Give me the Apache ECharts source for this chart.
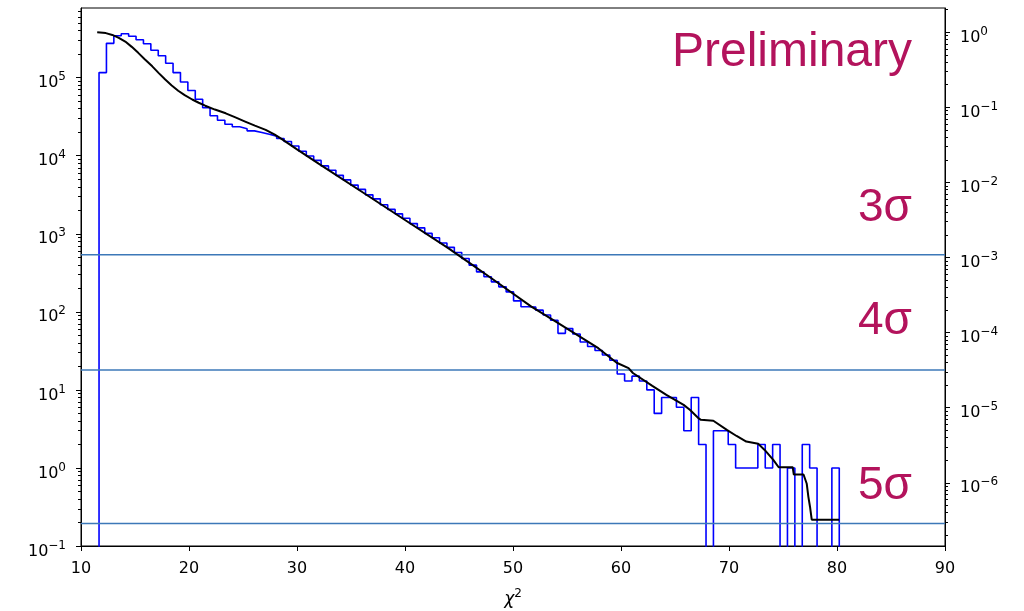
<!DOCTYPE html>
<html>
<head>
<meta charset="utf-8">
<script src="https://cdn.jsdelivr.net/npm/echarts@6/dist/echarts.min.js"></script>
<style>
  html, body { margin: 0; padding: 0; background: #fff; }
  #chart { width: 1024px; height: 611px; }
</style>
</head>
<body>
<div id="chart"></div>
<script>
// Histogram of chi-square values: 100 equal bins starting at binStart
const binStart = 11.67;
const binWidth = 0.6854;
const histCounts = [
  116000, 275000, 344000, 365000, 339000, 306000, 272000, 224000, 191000, 153000,
  116000, 88000, 68400, 52900, 41200, 32500, 28500, 25300, 23500, 22200,
  20800, 19800, 18800, 17800, 16600, 15200, 13300, 11400, 9900, 8700,
  7400, 6500, 5600, 4900, 4200, 3700, 3150, 2800, 2350, 2050,
  1800, 1580, 1350, 1190, 1010, 890, 760, 670, 575, 483,
  396, 325, 281, 242, 209, 180, 138, 116, 115, 105,
  91, 78, 53, 61, 52, 41, 36, 32, 28, 24,
  16, 13, 15, 13, 10, 5, 8, 8, 6, 3,
  8, 2, 0, 3, 3, 2, 1, 1, 1, 2,
  1, 2, 0, 1, 0, 2, 1, 0, 0, 1
];

// Tail probability (fraction of entries above chi-square), right axis
const survX = [11.5, 12.3, 12.9, 13.5, 14.1, 14.7, 15.3, 15.9, 16.6, 17.2,
  17.8, 18.4, 19.0, 19.6, 20.3, 20.9, 21.5, 22.4, 23.4, 24.3,
  25.2, 26.1, 27.1, 27.9, 28.6, 30, 32, 36, 40, 44,
  46, 48, 51.7, 54, 57.9, 59.6, 60.7, 61.1, 62.9, 64.2,
  65.8, 66.4, 67.2, 67.4, 68.55, 69.8, 70.7, 71.6, 72.7, 73.3,
  74.1, 74.6, 75.9, 76.0, 76.9, 77.2, 77.35, 77.5, 77.66, 80.2];
const survP = [1.0, 0.973, 0.920, 0.841, 0.750, 0.638, 0.531, 0.437, 0.351, 0.285,
  0.234, 0.195, 0.166, 0.145, 0.127, 0.115, 0.105, 0.0933, 0.0832, 0.0733,
  0.0646, 0.0569, 0.0501, 0.0437, 0.0376, 0.0275, 0.01774, 0.0075, 0.00316, 0.00133,
  0.00084, 0.00053, 2.22e-4, 1.39e-4, 6.2e-5, 3.97e-5, 3.36e-5, 2.9e-5, 1.95e-5, 1.48e-5,
  1.09e-5, 9.3e-6, 7.2e-6, 6.9e-6, 6.7e-6, 5.06e-6, 4.2e-6, 3.54e-6, 3.3e-6, 2.74e-6,
  2.02e-6, 1.61e-6, 1.61e-6, 1.29e-6, 1.29e-6, 9.7e-7, 6.5e-7, 4.8e-7, 3.23e-7, 3.23e-7];

// Significance thresholds (p-values on the right axis)
const sigmaNames = ['3σ', '4σ', '5σ'];
const sigmaP = [1.09e-3, 3.17e-5, 2.87e-7];

// Axis ranges and ticks
const xRange = [10, 90];
const xTicks = [10, 20, 30, 40, 50, 60, 70, 80, 90];
const countRange = [0.1, 7.8e5];
const pRange = [1.44e-7, 2.1];
const leftTicks = [0.1, 1, 10, 100, 1000, 10000, 100000];
const rightTicks = [1e-6, 1e-5, 1e-4, 1e-3, 1e-2, 1e-1, 1];

const FONT = 'DejaVu Sans';
const TEXT_FONT = '"Liberation Sans"';
const ACCENT = '#b3135c';
const zeroFloor = 1e-3;   // empty bins drop below the axis floor

function minorTicks(lo, hi) {
  const out = [];
  for (let e = Math.floor(Math.log10(lo)); e <= Math.ceil(Math.log10(hi)); e++) {
    for (let m = 2; m <= 9; m++) {
      const v = m * Math.pow(10, e);
      if (v >= lo && v <= hi) out.push(v);
    }
  }
  return out;
}

function powLabel(v) {
  const e = Math.round(Math.log10(v));
  return '{b|10}{s|' + (e < 0 ? '\u2212' + (-e) : e) + '}';
}

const powRich = {
  b: { fontFamily: FONT, fontSize: 16, color: '#000', verticalAlign: 'bottom', lineHeight: 18 },
  s: { fontFamily: FONT, fontSize: 12, color: '#000', verticalAlign: 'bottom', padding: [0, 0, 8, 0], lineHeight: 14 }
};

// step outline of the histogram
const histLine = [[binStart, zeroFloor]];
histCounts.forEach((c, i) => histLine.push([binStart + i * binWidth, c > 0 ? c : zeroFloor]));
histLine.push([binStart + histCounts.length * binWidth, zeroFloor]);

const survLine = survX.map((x, i) => [x, survP[i]]);

function logAxis(position, range, major, minor, withLabels) {
  return {
    type: 'log',
    position: position,
    min: range[0],
    max: range[1],
    axisLine: { show: withLabels, lineStyle: { color: '#000', width: 1 } },
    axisTick: {
      show: true,
      customValues: withLabels ? major : minor,
      length: withLabels ? 5 : 3,
      lineStyle: { color: '#000', width: 1 }
    },
    axisLabel: withLabels ? {
      show: true,
      customValues: major,
      formatter: powLabel,
      margin: 15,
      padding: [9, 0, 0, 0],
      rich: powRich
    } : { show: false },
    splitLine: { show: false },
    minorTick: { show: false }
  };
}

const sigmaSeries = sigmaP.map((p, i) => ({
  name: sigmaNames[i],
  type: 'line',
  xAxisIndex: 0,
  yAxisIndex: 2,
  data: [[xRange[0], p], [xRange[1], p]],
  symbol: 'none',
  silent: true,
  lineStyle: { color: '#3c78b8', width: 1.5 },
  z: 3
}));

const chart = echarts.init(document.getElementById('chart'), null, { renderer: 'canvas' });

chart.setOption({
  animation: false,
  backgroundColor: '#fff',
  grid: {
    left: 81, right: 79, top: 8, bottom: 65,
    show: true, borderColor: '#000', borderWidth: 1,
    containLabel: false, outerBoundsMode: 'none'
  },
  xAxis: {
    type: 'value',
    min: xRange[0], max: xRange[1], interval: 10,
    axisLine: { show: true, lineStyle: { color: '#000', width: 1 } },
    axisTick: { show: true, length: 5, customValues: xTicks, lineStyle: { color: '#000' } },
    axisLabel: { fontFamily: FONT, fontSize: 16, color: '#000', margin: 15, customValues: xTicks },
    splitLine: { show: false },
    name: '{i|χ}{s|2}',
    nameLocation: 'middle',
    nameGap: 44,
    nameTextStyle: {
      rich: {
        i: { fontFamily: FONT, fontStyle: 'italic', fontSize: 17, color: '#000', verticalAlign: 'bottom', lineHeight: 18 },
        s: { fontFamily: FONT, fontSize: 12, color: '#000', verticalAlign: 'bottom', padding: [0, 0, 8, 0], lineHeight: 14 }
      }
    }
  },
  yAxis: [
    logAxis('left', countRange, leftTicks, minorTicks(countRange[0], countRange[1]), true),
    logAxis('left', countRange, leftTicks, minorTicks(countRange[0], countRange[1]), false),
    logAxis('right', pRange, rightTicks, minorTicks(pRange[0], pRange[1]), true),
    logAxis('right', pRange, rightTicks, minorTicks(pRange[0], pRange[1]), false)
  ],
  series: [
    {
      name: 'entries',
      type: 'line',
      xAxisIndex: 0,
      yAxisIndex: 0,
      step: 'end',
      data: histLine,
      symbol: 'none',
      clip: true,
      lineStyle: { color: '#0000ff', width: 1.6 },
      z: 2
    },
    ...sigmaSeries,
    {
      name: 'tail probability',
      type: 'line',
      xAxisIndex: 0,
      yAxisIndex: 2,
      data: survLine,
      symbol: 'none',
      clip: true,
      lineStyle: { color: '#000', width: 2 },
      z: 4
    }
  ],
  graphic: [
    { type: 'text', x: 912, y: 53, style: { text: 'Preliminary', font: '48px ' + TEXT_FONT, fill: ACCENT, textAlign: 'right', textVerticalAlign: 'middle' } },
    { type: 'text', x: 912, y: 208, style: { text: sigmaNames[0], font: '46px ' + TEXT_FONT, fill: ACCENT, textAlign: 'right', textVerticalAlign: 'middle' } },
    { type: 'text', x: 912, y: 321, style: { text: sigmaNames[1], font: '46px ' + TEXT_FONT, fill: ACCENT, textAlign: 'right', textVerticalAlign: 'middle' } },
    { type: 'text', x: 912, y: 486, style: { text: sigmaNames[2], font: '46px ' + TEXT_FONT, fill: ACCENT, textAlign: 'right', textVerticalAlign: 'middle' } }
  ]
});
</script>
</body>
</html>
